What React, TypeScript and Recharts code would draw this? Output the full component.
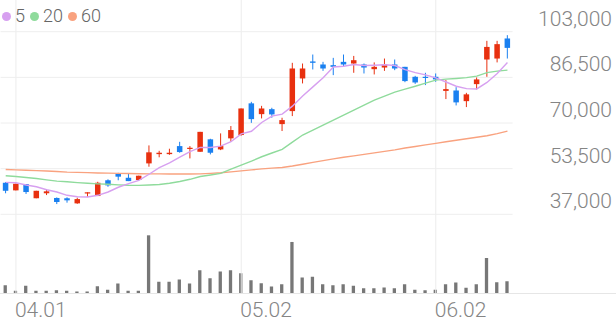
import React from 'react';
import {
  ComposedChart,
  BarChart,
  Bar,
  Line,
  XAxis,
  YAxis,
  CartesianGrid,
  ReferenceLine,
} from 'recharts';

const dates = [
  '03.31', '04.01', '04.02', '04.03', '04.04', '04.07', '04.08', '04.09', '04.10', '04.11',
  '04.14', '04.15', '04.16', '04.17', '04.18', '04.21', '04.22', '04.23', '04.24', '04.25',
  '04.28', '04.29', '04.30', '05.02', '05.07', '05.08', '05.09', '05.12', '05.13', '05.14',
  '05.15', '05.16', '05.19', '05.20', '05.21', '05.22', '05.23', '05.26', '05.27', '05.28',
  '05.29', '05.30', '06.02', '06.04', '06.05', '06.09', '06.10', '06.11', '06.12', '06.13',
];

const opens = [
  48400, 45650, 47950, 42800, 44600, 42900, 42800, 40950, 44600, 43600,
  49300, 51650, 50200, 49400, 55400, 58750, 58750, 61650, 60700, 59600,
  64100, 60450, 64450, 65650, 77100, 73200, 75000, 69600, 74300, 86100,
  92250, 91150, 90900, 92100, 91500, 91150, 89450, 90050, 91150, 90300,
  86700, 86700, 86700, 81600, 81750, 77900, 84050, 92950, 93300, 100550,
];
const highs = [
  48650, 48050, 47950, 45500, 46000, 43100, 43150, 43000, 44950, 48750,
  49650, 52000, 51800, 50950, 61900, 59950, 60700, 63200, 61650, 66800,
  64300, 66250, 68900, 75250, 77650, 76200, 75500, 71900, 91750, 91500,
  94750, 92100, 93550, 94750, 94250, 91500, 91900, 93300, 92950, 90300,
  87050, 88150, 87900, 85500, 82950, 80900, 86450, 99700, 99700, 101750,
];
const lows = [
  44600, 45650, 44350, 42800, 43950, 40700, 41200, 40800, 43350, 43600,
  46950, 49300, 49000, 49400, 54200, 57600, 58500, 59250, 57200, 59600,
  58650, 60200, 63200, 65400, 70050, 71650, 71900, 67100, 72500, 84300,
  89350, 88850, 87300, 90300, 88150, 87900, 87550, 88850, 89100, 84750,
  84150, 83700, 84900, 78650, 76350, 75750, 82150, 86700, 91900, 93300,
];
const closes = [
  45500, 48050, 45050, 45500, 45300, 41450, 42050, 42500, 44950, 48400,
  47450, 50600, 49000, 50950, 59400, 59250, 59250, 59500, 61050, 66800,
  59250, 61650, 67450, 75250, 71400, 75250, 73100, 71050, 89700, 89700,
  91750, 89700, 90300, 91150, 92700, 90050, 90300, 91150, 89700, 85150,
  84650, 86300, 85750, 82250, 77450, 80350, 85750, 97500, 98500, 97150,
];
const volumes = [
  25000, 8000, 23000, 8000, 8000, 10000, 8000, 6000, 6000, 22000,
  11000, 30000, 8000, 8000, 175000, 35000, 35000, 42000, 30000, 70000,
  46000, 66000, 70000, 61000, 40000, 31000, 21000, 28000, 155000, 48000,
  50000, 28000, 25000, 28000, 23000, 16000, 16000, 18000, 16000, 28000,
  11000, 10000, 11000, 28000, 33000, 17000, 28000, 107000, 34000, 37000,
];
const ma5 = [
  48550, 48400, 47600, 46950, 45880, 45070, 43870, 43360, 43250, 43870,
  45070, 46780, 48080, 49280, 51480, 53840, 55570, 57670, 59690, 61170,
  61170, 61650, 63240, 66080, 67000, 70200, 72490, 73210, 76100, 79760,
  83060, 86380, 90230, 90520, 91120, 90780, 90900, 91070, 90780, 89270,
  88190, 87390, 86310, 84820, 83280, 82420, 82310, 84660, 87910, 91850,
];
const ma20 = [
  50950, 50650, 50300, 49950, 49450, 49000, 48750, 48450, 48200, 48000,
  47850, 47650, 47500, 47450, 47600, 47750, 48200, 48850, 49650, 50650,
  51200, 51800, 53350, 54800, 56250, 57800, 59150, 60450, 63100, 65650,
  67450, 69250, 71050, 72850, 74650, 76450, 78250, 79700, 81150, 82250,
  83300, 84400, 85500, 85850, 86100, 86400, 86950, 88200, 88750, 89100,
];
const ma60 = [
  53200, 53050, 52900, 52800, 52650, 52450, 52250, 52150, 52050, 51950,
  51900, 51800, 51750, 51650, 51600, 51600, 51550, 51550, 51550, 51600,
  51800, 52000, 52350, 52700, 53050, 53400, 53700, 53900, 54450, 55100,
  55750, 56400, 57050, 57600, 58100, 58650, 59200, 59750, 60300, 60950,
  61500, 62100, 62650, 63200, 63750, 64300, 64850, 65400, 66150, 67050,
];

const priceTicks = [37000, 53500, 70000, 86500, 103000];
const dateTicks = ['04.01', '05.02', '06.02'];

const legendItems = [
  { label: '5', color: '#d7a0f0' },
  { label: '20', color: '#8fdb9c' },
  { label: '60', color: '#f9a27f' },
];

const UP = '#e8300f';
const DOWN = '#1a80f0';

const rows = dates.map((date, i) => ({
  date,
  open: opens[i],
  high: highs[i],
  low: lows[i],
  close: closes[i],
  range: [lows[i], highs[i]],
  volume: volumes[i],
  ma5: ma5[i],
  ma20: ma20[i],
  ma60: ma60[i],
}));

const Candle = (props: any) => {
  const { x, y, width, height, payload } = props;
  if (!payload || x == null) return null;
  const { open, close, high, low } = payload;
  const cx = x + width / 2;
  const span = high - low;
  const yOf = (v: number) => (span > 0 ? y + ((high - v) / span) * height : y);
  const top = yOf(Math.max(open, close));
  const bottom = yOf(Math.min(open, close));
  const color = close >= open ? UP : DOWN;
  const bw = 5.5;
  return (
    <g>
      <line x1={cx} x2={cx} y1={y} y2={y + height} stroke={color} strokeWidth={1} />
      <rect x={cx - bw / 2} y={top} width={bw} height={Math.max(1.2, bottom - top)} fill={color} />
    </g>
  );
};

const PriceTick = (props: any) => {
  const { y, payload } = props;
  return (
    <text
      x={612}
      y={y - 6}
      textAnchor="end"
      fill="#858585"
      fontSize={21}
      fontFamily="Roboto"
      fontWeight={300}
    >
      {payload.value.toLocaleString('en-US')}
    </text>
  );
};

const DateTick = (props: any) => {
  const { x, y, payload } = props;
  return (
    <text x={x - 1} y={y + 23} textAnchor="start" fill="#858585" fontSize={21} fontFamily="Roboto" fontWeight={300}>
      {payload.value}
    </text>
  );
};

export default function App() {
  return (
    <div style={{ position: 'absolute', left: 0, top: 0, width: 616, height: 321, background: '#fff', fontFamily: 'Roboto' }}>
      {/* volume + vertical grid */}
      <div style={{ position: 'absolute', left: 0, top: 0 }}>
        <BarChart width={616} height={321} data={rows} margin={{ top: 0, right: 103.42, bottom: 0, left: 0.58 }}>
          <XAxis
            dataKey="date"
            ticks={dateTicks}
            interval={0}
            height={27.5}
            tickLine={false}
            axisLine={false}
            tickSize={0}
            tickMargin={0}
            tick={<DateTick />}
          />
          <YAxis hide domain={[0, 882700]} allowDataOverflow />
          {dateTicks.map((d) => (
            <ReferenceLine key={d} x={d} stroke="#ececec" strokeWidth={1} />
          ))}
          <Bar dataKey="volume" fill="#777777" barSize={3.3} isAnimationActive={false} />
        </BarChart>
      </div>
      <div style={{ position: 'absolute', left: 0, top: 293, width: 616, height: 1, background: '#e6e6e6' }} />
      {/* price */}
      <div style={{ position: 'absolute', left: 0, top: 0 }}>
        <ComposedChart width={616} height={321} data={rows} margin={{ top: 31.7, right: 0, bottom: 106.7, left: 0.58 }}>
          <CartesianGrid horizontal vertical={false} stroke="#eeeeee" />
          <XAxis dataKey="date" hide />
          <YAxis
            orientation="right"
            width={103.42}
            domain={[37000, 103000]}
            ticks={priceTicks}
            allowDataOverflow
            tickLine={false}
            axisLine={false}
            tick={<PriceTick />}
          />
          <Line type="linear" dataKey="ma60" stroke="#f9a27f" strokeWidth={1.4} dot={false} activeDot={false} isAnimationActive={false} />
          <Line type="linear" dataKey="ma20" stroke="#8fdb9c" strokeWidth={1.4} dot={false} activeDot={false} isAnimationActive={false} />
          <Line type="linear" dataKey="ma5" stroke="#d7a0f0" strokeWidth={1.4} dot={false} activeDot={false} isAnimationActive={false} />
          <Bar dataKey="range" barSize={6} shape={<Candle />} isAnimationActive={false} />
        </ComposedChart>
      </div>
      {/* legend */}
      <div style={{ position: 'absolute', left: 2, top: 6, height: 20, display: 'flex', alignItems: 'center', fontSize: 18, fontWeight: 300, color: '#666', lineHeight: '20px' }}>
        {legendItems.map((item) => (
          <div key={item.label} style={{ display: 'flex', alignItems: 'center', marginRight: 5 }}>
            <span style={{ width: 9, height: 9, borderRadius: '50%', background: item.color, marginRight: 4, display: 'inline-block' }} />
            <span>{item.label}</span>
          </div>
        ))}
      </div>
    </div>
  );
}
